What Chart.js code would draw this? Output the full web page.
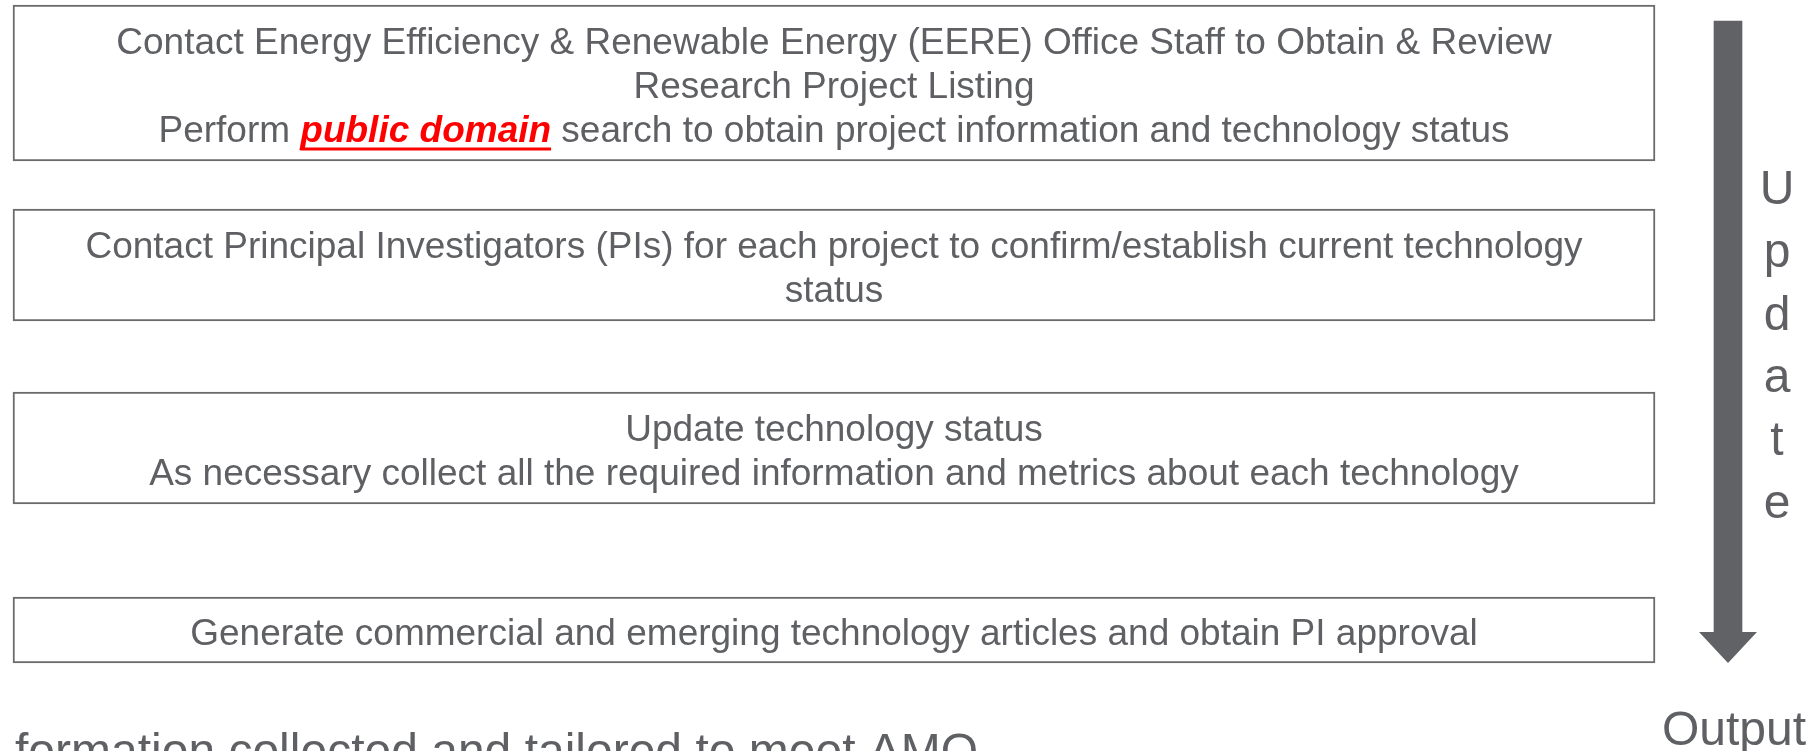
<!DOCTYPE html>
<html><head><meta charset="utf-8">
<script src="https://cdn.jsdelivr.net/npm/chart.js@4.4.1/dist/chart.umd.min.js"></script>
<style>html,body{margin:0;padding:0;background:#fff;overflow:hidden}#wrap{width:1817px;height:751px}</style>
</head><body><div id="wrap"><canvas id="c" width="1817" height="751"></canvas></div>
<script>
// ---------- content ----------
const stepLines = [
  ["Contact Energy Efficiency & Renewable Energy (EERE) Office Staff to Obtain & Review",
   "Research Project Listing",
   "Perform {public domain} search to obtain project information and technology status"],
  ["Contact Principal Investigators (PIs) for each project to confirm/establish current technology",
   "status"],
  ["Update technology status",
   "As necessary collect all the required information and metrics about each technology"],
  ["Generate commercial and emerging technology articles and obtain PI approval"]
];
const sideLetters = ["U", "p", "d", "a", "t", "e"];
const outputLabel = "Output";
const footerText = "formation collected and tailored to meet AMO";

// ---------- layout (diagram units = pixels of the 1817x751 frame) ----------
const W = 1817, H = 751;
const boxLeft = 13, boxRight = 1655;
const boxTops = [5, 209, 392, 597];
const boxBottoms = [161, 321, 504, 663];
const lineGap = 44, baseOffset = 14.5;
const shaft = { left: 1714, right: 1742, top: 21, bottom: 633 };
const head = { left: 1699, right: 1757, top: 632, tip: 663 };
const sideX = 1777, sideBase0 = 204, sideStep = 62.8;
const outputX = 1734, outputBase = 745;
const footerX = 15, footerBase = 767;

const FONT = '"Liberation Sans", Arial, Helvetica, sans-serif';
const TEXT = '#5f6064', BORDER = '#6b6b6e', ARROW = '#616266', EMPH = '#ff0000';

// ---------- datasets ----------
const boxDatasets = boxTops.map((t, i) => ({
  type: 'bar', label: 'Step ' + (i + 1), indexAxis: 'y', stack: 'diagram',
  data: [{ y: (t + boxBottoms[i]) / 2, x: [boxLeft, boxRight] }],
  barThickness: boxBottoms[i] - t,
  backgroundColor: '#ffffff', borderColor: BORDER, borderWidth: 2, borderSkipped: false
}));
const shaftDataset = {
  type: 'bar', label: 'Update shaft', indexAxis: 'y', stack: 'diagram',
  data: [{ y: (shaft.top + shaft.bottom) / 2, x: [shaft.left, shaft.right] }],
  barThickness: shaft.bottom - shaft.top,
  backgroundColor: ARROW, borderWidth: 0
};
const headDataset = {
  type: 'line', label: 'Update head', indexAxis: 'x',
  data: [{ x: head.left, y: head.top }, { x: (head.left + head.right) / 2, y: head.tip }, { x: head.right, y: head.top }],
  fill: { value: head.top }, backgroundColor: ARROW, borderColor: ARROW, borderWidth: 0,
  pointRadius: 0, tension: 0
};

// ---------- text plugin ----------
function parseSegments(line) {
  const segs = []; const re = /\{([^}]*)\}/g; let last = 0, m;
  while ((m = re.exec(line))) {
    if (m.index > last) segs.push({ t: line.slice(last, m.index), emph: false });
    segs.push({ t: m[1], emph: true }); last = re.lastIndex;
  }
  if (last < line.length) segs.push({ t: line.slice(last), emph: false });
  return segs;
}
const textPlugin = {
  id: 'diagramText',
  afterDatasetsDraw(chart) {
    const ctx = chart.ctx, xs = chart.scales.x, ys = chart.scales.y;
    const px = v => xs.getPixelForValue(v), py = v => ys.getPixelForValue(v);
    ctx.save();
    ctx.textBaseline = 'alphabetic';
    const normal = '37px ' + FONT, emph = 'italic bold 37px ' + FONT;
    const cx = px((boxLeft + boxRight) / 2);
    stepLines.forEach((lines, i) => {
      const mid = (boxTops[i] + boxBottoms[i]) / 2 + baseOffset;
      lines.forEach((line, j) => {
        const base = py(mid + (j - (lines.length - 1) / 2) * lineGap);
        const segs = parseSegments(line);
        let total = 0;
        segs.forEach(s => { ctx.font = s.emph ? emph : normal; s.w = ctx.measureText(s.t).width; total += s.w; });
        let x = cx - total / 2;
        ctx.textAlign = 'left';
        segs.forEach(s => {
          ctx.font = s.emph ? emph : normal;
          ctx.fillStyle = s.emph ? EMPH : TEXT;
          ctx.fillText(s.t, x, base);
          if (s.emph) ctx.fillRect(x, base + 6, s.w, 3);
          x += s.w;
        });
      });
    });
    ctx.font = '48px ' + FONT; ctx.fillStyle = TEXT; ctx.textAlign = 'center';
    sideLetters.forEach((ch, i) => ctx.fillText(ch, px(sideX), py(sideBase0 + i * sideStep)));
    ctx.fillText(outputLabel, px(outputX), py(outputBase));
    ctx.textAlign = 'left';
    ctx.fillText(footerText, px(footerX), py(footerBase));
    ctx.restore();
  }
};

new Chart(document.getElementById('c'), {
  type: 'bar',
  data: { datasets: [...boxDatasets, shaftDataset, headDataset] },
  options: {
    responsive: false, devicePixelRatio: 1, animation: false,
    layout: { padding: 0 },
    plugins: { legend: { display: false }, tooltip: { enabled: false }, title: { display: false } },
    events: [],
    scales: {
      x: { type: 'linear', min: 0, max: W, display: false, offset: false, grid: { display: false } },
      y: { type: 'linear', min: 0, max: H, reverse: true, display: false, offset: false, grid: { display: false } }
    }
  },
  plugins: [textPlugin]
});
</script></body></html>
